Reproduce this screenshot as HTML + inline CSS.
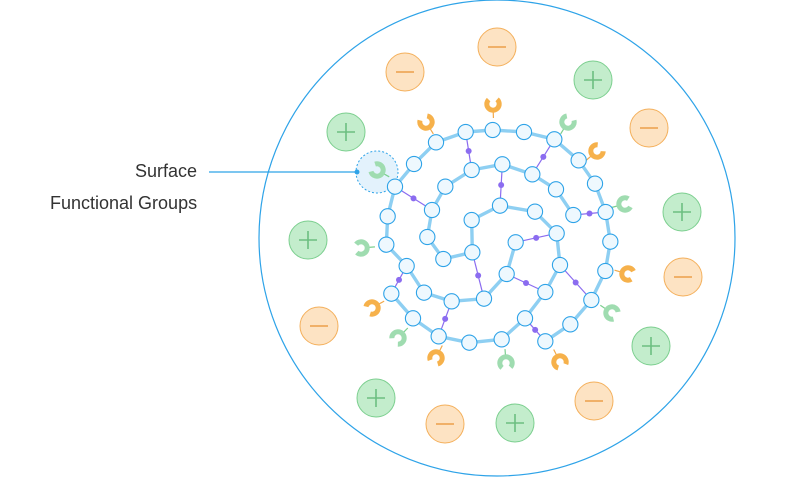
<!DOCTYPE html>
<html><head><meta charset="utf-8"><style>
html,body{margin:0;padding:0;background:#fff;width:800px;height:480px;overflow:hidden}
svg{position:absolute;left:0;top:0}
.t{position:absolute;font-family:"Liberation Sans",sans-serif;font-size:18px;color:#333;line-height:20px}
</style></head><body>
<svg id="s" width="800" height="480" xmlns="http://www.w3.org/2000/svg">
<circle cx="497" cy="238" r="238" fill="none" stroke="#2ea3e8" stroke-width="1.2"/>
<line x1="209" y1="172" x2="357" y2="172" stroke="#2ea3e8" stroke-width="1.2"/>
<circle cx="377" cy="172" r="21" fill="#e3f2fc" stroke="#2ea3e8" stroke-width="1" stroke-dasharray="2,2"/>
<circle cx="357" cy="172" r="2.5" fill="#2ea3e8"/>
<g id="g"></g>
</svg>
<div class="t" style="right:603px;top:161px">Surface</div>
<div class="t" style="left:50px;top:193px">Functional Groups</div>
<script>
const NS="http://www.w3.org/2000/svg",g=document.getElementById('g');
function el(n,a){const e=document.createElementNS(NS,n);for(const k in a)e.setAttribute(k,a[k]);g.appendChild(e);return e;}
const Z=p=>[p[0]/3+340,p[1]/3+90];
const A=[[165,290],[222,222],[288,157],[377,126],[458,120],[552,126],[643,148],[716,211],[765,281],[797,366],[811,455],[796,543],[754,630],[691,703],[616,754]];
const B=[[165,290],[143,379],[139,464],[200,528],[252,608],[335,634],[432,626],[500,552],[527,457]];
const C=[[154,611],[219,685],[296,739],[388,758],[485,748],[555,685],[616,606],[660,525],[650,430],[585,365],[480,347],[395,390],[397,487],[310,507],[262,441],[276,360],[316,290],[395,240],[487,223],[577,253],[648,298],[700,375]];
const X=[[[377,126],[395,240]],[[487,223],[480,347]],[[643,148],[577,253]],[[165,290],[276,360]],[[700,375],[797,366]],[[527,457],[650,430]],[[397,487],[432,626]],[[500,552],[616,606]],[[660,525],[754,630]],[[200,528],[154,611]],[[335,634],[296,739]],[[555,685],[616,754]]];
const cx=497,cy=237;
const plus=[[346,132],[593,80],[308,240],[682,212],[651,346],[376,398],[515,423]];
const minus=[[405,72],[497,47],[649,128],[683,277],[319,326],[594,401],[445,424]];
plus.forEach(([x,y])=>{el('circle',{cx:x,cy:y,r:19,fill:'#c3edcc',stroke:'#7ccf8f','stroke-width':1});
 el('path',{d:`M${x-9} ${y}H${x+9}M${x} ${y-9}V${y+9}`,stroke:'#6cbf80','stroke-width':1.6});});
minus.forEach(([x,y])=>{el('circle',{cx:x,cy:y,r:19,fill:'#fde3c3',stroke:'#f4b05c','stroke-width':1});
 el('path',{d:`M${x-9} ${y}H${x+9}`,stroke:'#eba04a','stroke-width':1.6});});
const og=[[426,122],[493,104],[597,151],[628,274],[372,308],[436,358],[560,362]];
const gg=[[568,122],[625,204],[612,313],[361,248],[398,338],[506,363],[377,170]];
function fg(p,col,sc){const [x,y]=p;let dx=x-cx,dy=y-cy;const L=Math.hypot(dx,dy);dx/=L;dy/=L;
 el('line',{x1:x-dx*6,y1:y-dy*6,x2:x-dx*14,y2:y-dy*14,stroke:sc,'stroke-width':1.2});
 const a0=Math.atan2(dy,dx),r=6.2,g1=a0+0.75;
 el('path',{d:`M${x+r*Math.cos(g1)} ${y+r*Math.sin(g1)} A${r} ${r} 0 1 1 ${x+r*Math.cos(a0-0.75)} ${y+r*Math.sin(a0-0.75)}`,fill:'none',stroke:col,'stroke-width':5});}
og.forEach(p=>fg(p,'#f6b14b','#f3a94a'));
gg.forEach(p=>fg(p,'#9fdcb0','#7ccf8f'));
X.forEach(([a,b])=>{a=Z(a);b=Z(b);el('line',{x1:a[0],y1:a[1],x2:b[0],y2:b[1],stroke:'#8b6cf0','stroke-width':1.2});
 el('circle',{cx:(a[0]+b[0])/2,cy:(a[1]+b[1])/2,r:3,fill:'#8b6cf0'});});
[A,B,C].forEach(ch=>el('polyline',{points:ch.map(Z).map(p=>p.join(',')).join(' '),fill:'none',stroke:'#8ecff2','stroke-width':3.4,'stroke-linejoin':'round'}));
const seen={};[A,B,C].forEach(ch=>ch.forEach(p=>{const k=p.join();if(seen[k])return;seen[k]=1;const q=Z(p);
 el('circle',{cx:q[0],cy:q[1],r:7.6,fill:'#eef8fe',stroke:'#2ea3e8','stroke-width':1.1});}));
</script>
</body></html>
